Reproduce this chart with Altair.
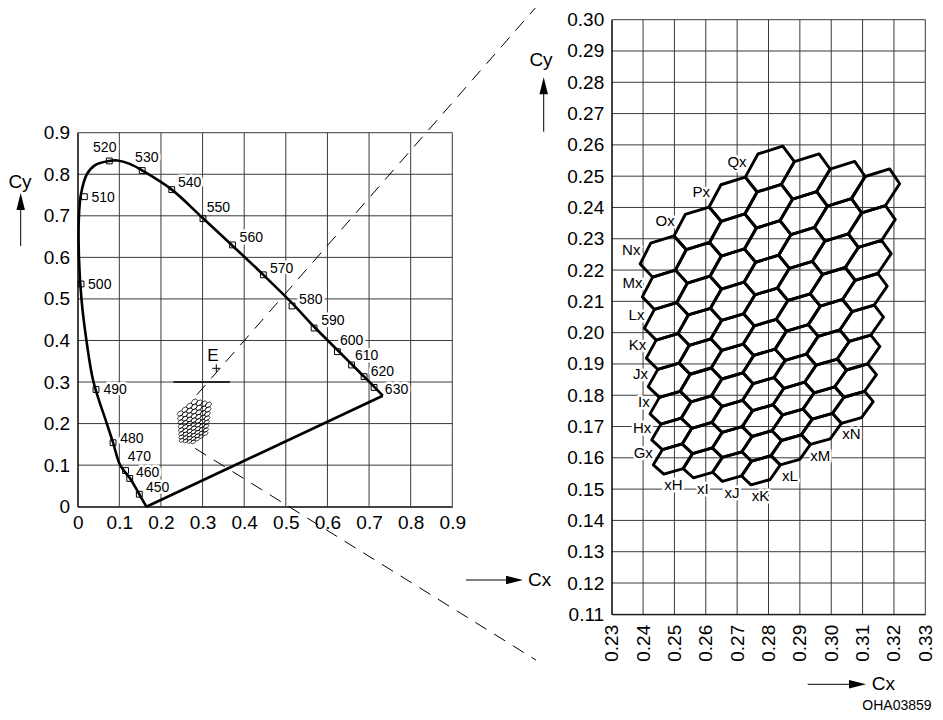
import math
import altair as alt
import pandas as pd

FONT = "Liberation Sans"
W, H = 927, 704

# ---------------- left panel (CIE chromaticity diagram) ----------------
left_ticks = [0, 0.1, 0.2, 0.3, 0.4, 0.5, 0.6, 0.7, 0.8, 0.9]

locus_x = [0.165, 0.148, 0.126, 0.102, 0.085, 0.070, 0.038, 0.021, 0.009, 0.003,
           0.003, 0.008, 0.022, 0.042, 0.075, 0.095, 0.125, 0.155, 0.226, 0.301,
           0.372, 0.446, 0.515, 0.568, 0.624, 0.660, 0.690, 0.712, 0.733]
locus_y = [0.000, 0.030, 0.068, 0.100, 0.154, 0.200, 0.300, 0.400, 0.500, 0.600,
           0.700, 0.753, 0.800, 0.822, 0.832, 0.833, 0.825, 0.809, 0.763, 0.694,
           0.628, 0.558, 0.490, 0.433, 0.377, 0.341, 0.311, 0.289, 0.267]
purple_x = [0.733, 0.165]
purple_y = [0.267, 0.000]

wavelengths = [450, 460, 470, 480, 490, 500, 510, 520, 530, 540,
               550, 560, 570, 580, 590, 600, 610, 620, 630]
wl_x = [0.148, 0.125, 0.115, 0.085, 0.044, 0.008, 0.016, 0.076, 0.155, 0.226,
        0.301, 0.372, 0.446, 0.515, 0.568, 0.624, 0.658, 0.688, 0.712]
wl_y = [0.030, 0.068, 0.087, 0.154, 0.282, 0.536, 0.746, 0.832, 0.809, 0.763,
        0.693, 0.630, 0.558, 0.483, 0.430, 0.373, 0.341, 0.313, 0.287]
wl_label_x = [0.192, 0.168, 0.148, 0.130, 0.090, 0.053, 0.061, 0.065, 0.166, 0.269,
              0.338, 0.417, 0.490, 0.560, 0.613, 0.658, 0.694, 0.732, 0.766]
wl_label_y = [0.044, 0.080, 0.120, 0.164, 0.281, 0.533, 0.744, 0.862, 0.838, 0.779,
              0.720, 0.646, 0.571, 0.497, 0.447, 0.399, 0.363, 0.325, 0.282]

e_point = [0.333, 0.333]
e_label = [0.325, 0.362]
e_bar_x = [0.23, 0.366]
e_bar_y = 0.30

dash_up_x = [0.286, 1.101]
dash_up_y = [0.269, 1.202]
dash_lo_x = [0.282, 1.101]
dash_lo_y = [0.1405, -0.369]

# ---------------- right panel (enlarged bin grid) ----------------
right_x_ticks = [0.23, 0.24, 0.25, 0.26, 0.27, 0.28, 0.29, 0.30, 0.31, 0.32, 0.33]
right_y_ticks = [0.11, 0.12, 0.13, 0.14, 0.15, 0.16, 0.17, 0.18, 0.19, 0.20,
                 0.21, 0.22, 0.23, 0.24, 0.25, 0.26, 0.27, 0.28, 0.29, 0.30]

row_letters = ["G", "H", "I", "J", "K", "L", "M", "N", "O", "P", "Q"]
col_letters = ["H", "I", "J", "K", "L", "M", "N"]
# bins: regular hexagons in CIE 1976 u'v' (centre of bin GH, bin pitch)
bin_origin_uv = [0.22603, 0.3252]
bin_pitch = 0.0104
# labelled bins (row index, column index)
left_label_cells = [(0, 0), (1, 0), (2, 0), (3, 0), (4, 0), (5, 0), (6, 0), (7, 0),
                    (8, 1), (9, 2), (10, 3)]
bottom_label_cells = [(0, 0), (0, 1), (0, 2), (0, 3), (1, 4), (2, 5), (3, 6)]


def uv_to_xy(u, v):
    d = 6 * u - 16 * v + 12
    return 9 * u / d, 4 * v / d


R3 = math.sqrt(3)
rad = bin_pitch / R3
corner_off = [(rad * math.cos(math.radians(a)), rad * math.sin(math.radians(a)))
              for a in (30, 90, 150, 210, 270, 330)]


def cell_center(i, j):
    return (bin_origin_uv[0] + j * bin_pitch - i * bin_pitch / 2,
            bin_origin_uv[1] + i * bin_pitch * R3 / 2)


def corner_xy(i, j, k):
    cu, cv = cell_center(i, j)
    return uv_to_xy(cu + corner_off[k][0], cv + corner_off[k][1])


hex_rows = []
for i in range(len(row_letters)):
    for j in range(len(col_letters)):
        if -3 <= i - j <= 7:
            cid = row_letters[i] + col_letters[j]
            for k in range(7):
                x, y = corner_xy(i, j, k % 6)
                hex_rows.append({"id": cid, "k": k, "x": x, "y": y})
hex_df = pd.DataFrame(hex_rows)

left_lab_rows = []
for (i, j) in left_label_cells:
    a = corner_xy(i, j, 2)
    b = corner_xy(i, j, 3)
    left_lab_rows.append({"x": (a[0] + b[0]) / 2, "y": (a[1] + b[1]) / 2,
                          "t": row_letters[i] + "x"})
bottom_lab_rows = []
for (i, j) in bottom_label_cells:
    a = corner_xy(i, j, 4)
    b = corner_xy(i, j, 5)
    bottom_lab_rows.append({"x": (a[0] + b[0]) / 2, "y": (a[1] + b[1]) / 2,
                            "t": "x" + col_letters[j]})

# ---------------- scales & axes ----------------
RS = -9  # right-hand block shifted slightly so that everything fits the page
sxL = alt.Scale(domain=[0, 0.9], range=[69.7, 444.3], nice=False, zero=False)
syL = alt.Scale(domain=[0, 0.9], range=[498.7, 124.7], nice=False, zero=False)
sxR = alt.Scale(domain=[0.23, 0.33], range=[612.7 + RS, 926.3 + RS], nice=False, zero=False)
syR = alt.Scale(domain=[0.11, 0.30], range=[606.3, 11.7], nice=False, zero=False)

common_axis = dict(grid=False, ticks=False, domain=True, domainColor="black",
                   domainWidth=1, labelFont=FONT, labelFontSize=19, labelColor="black",
                   title=None, labelFlush=False, labelOverlap=False, zindex=1)
axL_x = alt.Axis(orient="bottom", offset=498.7 - H, values=left_ticks,
                 labelExpr="datum.value == 0 ? '0' : format(datum.value, '.1f')",
                 labelPadding=7, **common_axis)
axL_y = alt.Axis(orient="left", offset=-69.7, values=left_ticks,
                 labelExpr="datum.value == 0 ? '0' : format(datum.value, '.1f')",
                 labelPadding=8, **common_axis)
axR_x = alt.Axis(orient="bottom", offset=606.3 - H, values=right_x_ticks, format=".2f",
                 labelAngle=270, labelAlign="right", labelBaseline="middle",
                 labelPadding=10, **common_axis)
axR_y = alt.Axis(orient="left", offset=-(612.7 + RS), values=right_y_ticks, format=".2f",
                 labelPadding=8, **common_axis)

GRID = "#3a3a3a"


def XL(f):
    return alt.X(f, type="quantitative", scale=sxL, axis=axL_x)


def YL(f):
    return alt.Y(f, type="quantitative", scale=syL, axis=axL_y)


def XR(f):
    return alt.X(f, type="quantitative", scale=sxR, axis=axR_x)


def YR(f):
    return alt.Y(f, type="quantitative", scale=syR, axis=axR_y)


def text_pair(df, X, Y, size, align="center", dx=0, dy=0):
    base = alt.Chart(df).encode(x=X("x"), y=Y("y"), text="t:N")
    halo = base.mark_text(font=FONT, fontSize=size, align=align, baseline="middle",
                          dx=dx, dy=dy, color="white", stroke="white", strokeWidth=5,
                          strokeJoin="round")
    fg = base.mark_text(font=FONT, fontSize=size, align=align, baseline="middle",
                        dx=dx, dy=dy, color="black")
    return [halo, fg]


# ---------------- left layers ----------------
vL = pd.DataFrame({"x": left_ticks, "y1": 0.0, "y2": 0.9})
hL = pd.DataFrame({"y": left_ticks, "x1": 0.0, "x2": 0.9})
gridL_v = alt.Chart(vL).mark_rule(color=GRID, strokeWidth=1).encode(
    x=XL("x"), y=YL("y1"), y2="y2")
gridL_h = alt.Chart(hL).mark_rule(color=GRID, strokeWidth=1).encode(
    y=YL("y"), x=XL("x1"), x2="x2")
ebar = alt.Chart(pd.DataFrame({"x1": [e_bar_x[0]], "x2": [e_bar_x[1]], "y": [e_bar_y]})).mark_rule(
    color="black", strokeWidth=1.6).encode(x=XL("x1"), x2="x2", y=YL("y"))

dash_df = pd.DataFrame({
    "id": ["u", "u", "l", "l"],
    "k": [0, 1, 0, 1],
    "x": dash_up_x + dash_lo_x,
    "y": dash_up_y + dash_lo_y,
})
dashes = alt.Chart(dash_df).mark_line(color="black", strokeWidth=1, strokeDash=[13, 9]).encode(
    x=XL("x"), y=YL("y"), detail="id:N", order="k:Q")

hexL = alt.Chart(hex_df).mark_line(color="black", strokeWidth=0.7).encode(
    x=XL("x"), y=YL("y"), detail="id:N", order="k:Q")

locus_df = pd.DataFrame({"x": locus_x, "y": locus_y, "k": list(range(len(locus_x)))})
locus = alt.Chart(locus_df).mark_line(color="black", strokeWidth=2.6,
                                      interpolate="catmull-rom").encode(
    x=XL("x"), y=YL("y"), order="k:Q")
purple_df = pd.DataFrame({"x": purple_x, "y": purple_y, "k": [0, 1]})
purple = alt.Chart(purple_df).mark_line(color="black", strokeWidth=2.6, strokeJoin="miter").encode(
    x=XL("x"), y=YL("y"), order="k:Q")

sq_df = pd.DataFrame({"x": wl_x, "y": wl_y})
squares = alt.Chart(sq_df).mark_point(shape="square", filled=False, size=34,
                                      color="black", strokeWidth=1, opacity=1).encode(
    x=XL("x"), y=YL("y"))
wl_df = pd.DataFrame({"x": wl_label_x, "y": wl_label_y, "t": [str(w) for w in wavelengths]})
wl_text = text_pair(wl_df, XL, YL, 14)

e_df = pd.DataFrame({"x": [e_point[0]], "y": [e_point[1]]})
e_cross = alt.Chart(e_df).mark_point(shape="M-1,0L1,0M0,-1L0,1", size=64, filled=False,
                                     color="black", strokeWidth=1, opacity=1).encode(
    x=XL("x"), y=YL("y"))
e_text = alt.Chart(pd.DataFrame({"x": [e_label[0]], "y": [e_label[1]], "t": ["E"]})).mark_text(
    font=FONT, fontSize=17, color="black", baseline="middle").encode(
    x=XL("x"), y=YL("y"), text="t:N")

left = alt.layer(gridL_v, gridL_h, ebar, dashes, hexL, locus, purple, squares,
                 *wl_text, e_cross, e_text)

# ---------------- right layers ----------------
vR = pd.DataFrame({"x": right_x_ticks, "y1": 0.11, "y2": 0.30})
hR = pd.DataFrame({"y": right_y_ticks, "x1": 0.23, "x2": 0.33})
gridR_v = alt.Chart(vR).mark_rule(color=GRID, strokeWidth=1).encode(
    x=XR("x"), y=YR("y1"), y2="y2")
gridR_h = alt.Chart(hR).mark_rule(color=GRID, strokeWidth=1).encode(
    y=YR("y"), x=XR("x1"), x2="x2")
hexR = alt.Chart(hex_df).mark_line(color="black", strokeWidth=2.9, strokeJoin="round",
                                   strokeCap="round").encode(
    x=XR("x"), y=YR("y"), detail="id:N", order="k:Q")
lab_left = text_pair(pd.DataFrame(left_lab_rows), XR, YR, 15, align="right", dx=-5, dy=-4)
lab_bottom = text_pair(pd.DataFrame(bottom_lab_rows), XR, YR, 15, align="center", dy=14)

right = alt.layer(gridR_v, gridR_h, *lab_left, *lab_bottom, hexR)

# ---------------- annotations (axis titles with arrows, figure code) ----------------
one = pd.DataFrame({"a": [0]})
UP = "M0,0L-0.25,1L0.25,1Z"
RIGHT = "M0,0L-1,-0.25L-1,0.25Z"


def arrow_up(x, y_tip, y_end):
    shaft = alt.Chart(one).mark_rule(color="black", strokeWidth=1).encode(
        x=alt.value(x), y=alt.value(y_tip + 8), y2=alt.value(y_end))
    head = alt.Chart(one).mark_point(shape=UP, size=1156, filled=True, color="black",
                                     strokeWidth=0, opacity=1).encode(
        x=alt.value(x), y=alt.value(y_tip))
    return [shaft, head]


def arrow_right(x_start, x_tip, y):
    shaft = alt.Chart(one).mark_rule(color="black", strokeWidth=1).encode(
        x=alt.value(x_start), x2=alt.value(x_tip - 8), y=alt.value(y))
    head = alt.Chart(one).mark_point(shape=RIGHT, size=1156, filled=True, color="black",
                                     strokeWidth=0, opacity=1).encode(
        x=alt.value(x_tip), y=alt.value(y))
    return [shaft, head]


def label(t, x, y, size, align="center"):
    return alt.Chart(one).mark_text(text=t, font=FONT, fontSize=size, color="black",
                                    align=align, baseline="middle").encode(
        x=alt.value(x), y=alt.value(y))


annots = [
    label("Cy", 12, 174, 19), *arrow_up(12.7, 185, 238),
    label("Cy", 542 + RS, 52, 19), *arrow_up(544.7 + RS, 69.3, 123.7),
    *arrow_right(458, 515, 572), label("Cx", 520, 572, 19, "left"),
    *arrow_right(808.7 + RS, 867 + RS, 676.3), label("Cx", 872.7 + RS, 676.3, 19, "left"),
    label("OHA03859", 898 + RS, 698, 14),
]

chart = alt.layer(left, right, *annots).resolve_scale(
    x="independent", y="independent"
).properties(
    width=W, height=H, padding=0, background="white",
    autosize=alt.AutoSizeParams(type="none")
).configure_view(strokeWidth=0, stroke="transparent")

chart.save("out.html", embed_options={"renderer": "svg", "actions": False})
